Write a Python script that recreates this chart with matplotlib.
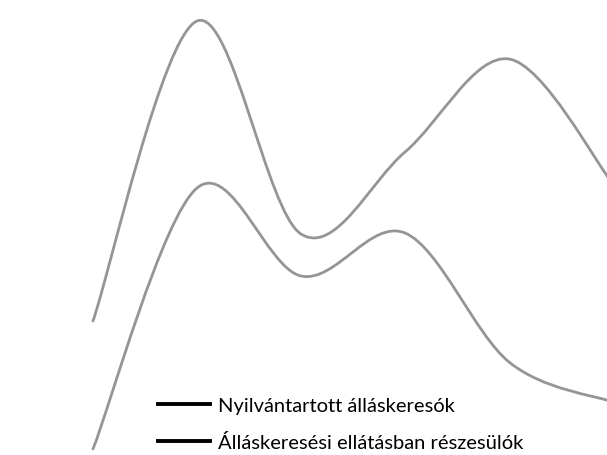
import numpy as np
import matplotlib
matplotlib.use("Agg")
import matplotlib.pyplot as plt
from matplotlib.path import Path
from matplotlib.patches import PathPatch
from matplotlib.lines import Line2D

# periods (no axis labels visible in the scan)
periodus = [0, 1, 2, 3, 4, 5]
# values (arbitrary units, higher = more)
nyilvantartott = [134, 434, 221, 303, 396, 271]
ellatott = [6, 267, 179, 222, 93, 53]

labels = ["Nyilvántartott álláskeresók", "Álláskeresési ellátásban részesülók"]


def smooth_path(x, y):
    # Bezier path like the "smoothed line" option of spreadsheet charts
    pts = np.column_stack([x, y]).astype(float)
    verts = [pts[0]]
    codes = [Path.MOVETO]
    n = len(pts)
    for i in range(n - 1):
        p0 = pts[i - 1] if i > 0 else pts[i]
        p1 = pts[i]
        p2 = pts[i + 1]
        p3 = pts[i + 2] if i + 2 < n else pts[i + 1]
        c1 = p1 + (p2 - p0) / 6
        c2 = p2 - (p3 - p1) / 6
        verts += [c1, c2, p2]
        codes += [Path.CURVE4] * 3
    return Path(verts, codes)


fig = plt.figure(figsize=(6.07, 4.56), dpi=100)
ax = fig.add_axes([0, 0, 1, 1])

for serie in [nyilvantartott, ellatott]:
    patch = PathPatch(smooth_path(periodus, serie), facecolor="none",
                      edgecolor="#959595", lw=2.0, capstyle="round")
    ax.add_patch(patch)

ax.set_xlim(-93 / 104, 514 / 104)
ax.set_ylim(0, 456)
ax.axis("off")

handles = [Line2D([], [], color="black", lw=2.8) for _ in labels]
leg = fig.legend(handles, labels, loc="upper left", bbox_to_anchor=(0.26, 0.128),
                 frameon=False, fontsize=14.5, handlelength=2.6, handletextpad=0.4,
                 labelspacing=0.95, borderaxespad=0, borderpad=0)
for t in leg.get_texts():
    t.set_family("Lato")

fig.savefig("out.png", dpi=100, facecolor="white")
